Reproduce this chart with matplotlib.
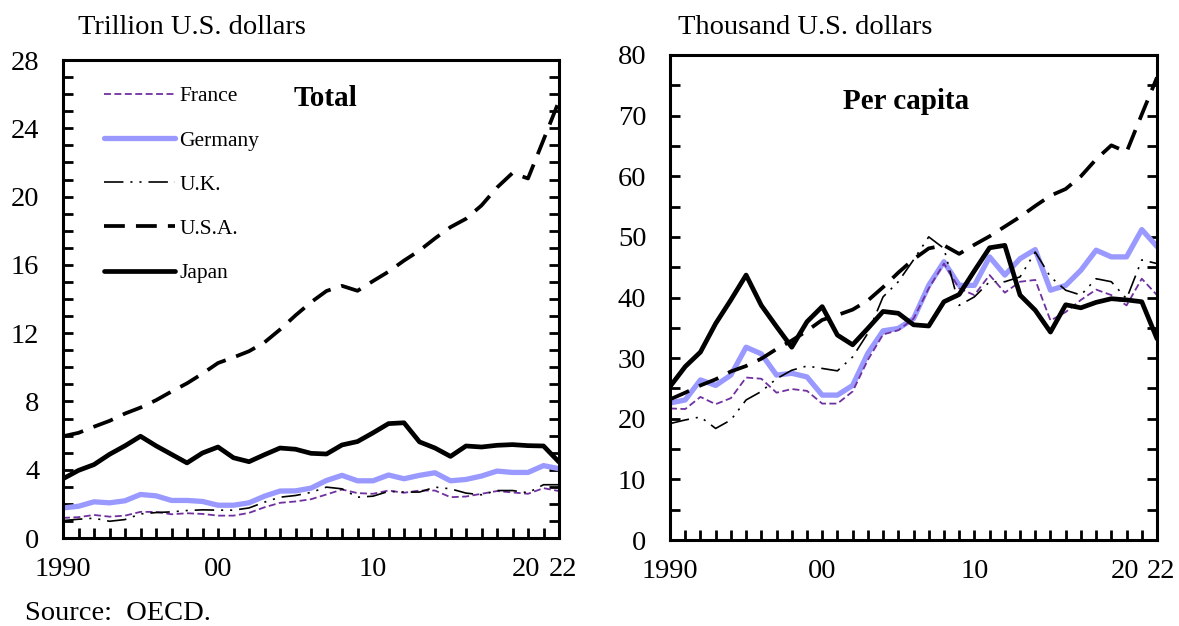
import matplotlib
matplotlib.use("Agg")
import matplotlib.pyplot as plt
from matplotlib.ticker import FixedLocator, MultipleLocator
import matplotlib.transforms as mtransforms
import numpy as np

plt.rcParams['font.family'] = ['Liberation Serif', 'DejaVu Serif']
plt.rcParams['lines.scale_dashes'] = False

years = list(range(1990, 2023))

# Total, trillion U.S. dollars
total_france = [1.18, 1.22, 1.35, 1.25, 1.31, 1.53, 1.53, 1.39, 1.45, 1.41, 1.31, 1.31, 1.47,
                1.80, 2.06, 2.14, 2.27, 2.55, 2.84, 2.63, 2.59, 2.78, 2.65, 2.78, 2.78, 2.39,
                2.43, 2.59, 2.75, 2.67, 2.59, 2.92, 2.75]
total_germany = [1.76, 1.86, 2.12, 2.06, 2.18, 2.55, 2.47, 2.20, 2.20, 2.14, 1.92, 1.92, 2.06,
                 2.45, 2.75, 2.76, 2.92, 3.37, 3.67, 3.35, 3.35, 3.69, 3.47, 3.67, 3.82, 3.35,
                 3.43, 3.63, 3.92, 3.84, 3.84, 4.24, 4.06]
total_uk = [1.02, 1.10, 1.16, 0.98, 1.08, 1.41, 1.49, 1.53, 1.61, 1.65, 1.63, 1.63, 1.76,
            2.10, 2.39, 2.49, 2.67, 2.98, 2.88, 2.39, 2.45, 2.73, 2.69, 2.69, 2.98, 2.88,
            2.63, 2.53, 2.78, 2.78, 2.65, 3.12, 3.12]
total_usa = [5.96, 6.16, 6.52, 6.86, 7.29, 7.64, 8.07, 8.58, 9.06, 9.63, 10.25, 10.58, 10.94,
             11.46, 12.21, 13.04, 13.81, 14.47, 14.77, 14.48, 15.05, 15.60, 16.25, 16.84,
             17.55, 18.21, 18.70, 19.48, 20.53, 21.38, 21.06, 23.32, 25.60]
total_japan = [3.47, 3.96, 4.30, 4.90, 5.40, 5.96, 5.40, 4.90, 4.40, 4.98, 5.33, 4.70, 4.47,
               4.88, 5.27, 5.20, 4.96, 4.92, 5.45, 5.65, 6.16, 6.70, 6.75, 5.63, 5.27, 4.78,
               5.39, 5.33, 5.43, 5.47, 5.41, 5.39, 4.45]

# Per capita, thousand U.S. dollars
pc_france = [21.7, 21.6, 23.6, 22.4, 23.4, 26.8, 26.6, 24.3, 24.9, 24.6, 22.5, 22.5, 24.5,
             29.7, 33.9, 34.6, 36.5, 41.5, 45.6, 41.5, 40.4, 43.7, 40.8, 42.6, 42.9, 36.2,
             37.6, 39.6, 41.3, 40.4, 38.7, 43.1, 40.4]
pc_germany = [22.6, 23.1, 26.4, 25.5, 27.2, 31.8, 30.7, 27.2, 27.5, 26.9, 23.9, 23.9, 25.5,
              30.8, 34.5, 34.9, 36.5, 42.0, 45.9, 42.0, 42.0, 46.7, 43.7, 46.4, 47.9, 41.2,
              42.0, 44.5, 47.8, 46.7, 46.7, 51.2, 48.4]
pc_uk = [19.2, 19.8, 20.3, 18.4, 19.8, 23.1, 24.5, 26.6, 28.0, 28.7, 28.3, 27.9, 30.2,
         34.1, 40.1, 42.6, 46.2, 50.0, 48.1, 38.7, 40.1, 42.6, 42.6, 43.4, 47.5, 43.4,
         41.2, 40.4, 43.1, 42.6, 39.8, 46.2, 45.6]
pc_usa = [23.2, 24.3, 25.5, 26.5, 27.8, 28.7, 29.9, 31.5, 32.9, 34.5, 36.3, 37.1, 38.0,
          39.5, 41.7, 44.1, 46.3, 48.1, 48.6, 47.2, 48.7, 50.1, 51.7, 53.3, 55.1, 56.8,
          57.9, 60.0, 62.8, 65.1, 64.0, 70.2, 76.3]
pc_japan = [25.3, 28.6, 31.0, 35.7, 39.6, 43.7, 38.7, 35.2, 31.8, 36.0, 38.5, 33.8, 32.2,
            34.9, 37.7, 37.4, 35.5, 35.3, 39.3, 40.5, 44.4, 48.2, 48.6, 40.4, 37.9, 34.3,
            38.8, 38.3, 39.2, 39.8, 39.6, 39.3, 33.2]

xtick_pos = [1990, 2000, 2010, 2020, 2022]
xtick_labels = ["1990", "00", "10", "20", "22"]

styles = {
    'France': dict(color='#7030A0', lw=1.3, dashes=(5, 2.5)),
    'Germany': dict(color='#9999FF', lw=3.8, solid_capstyle='round'),
    'U.K.': dict(color='black', lw=1.2, dashes=(14, 5, 1.5, 5, 1.5, 5)),
    'U.S.A.': dict(color='black', lw=2.7, dashes=(15, 8)),
    'Japan': dict(color='black', lw=3.4, solid_capstyle='round'),
}

fig = plt.figure(figsize=(11.79, 6.26), dpi=100)
W, H = 1179, 626
axL = fig.add_axes([63 / W, (H - 538) / H, (559 - 63) / W, (538 - 60) / H])
axR = fig.add_axes([670 / W, (H - 540) / H, (1157 - 670) / W, (540 - 55) / H])

label_shift = {"20": -2, "22": 4}

def draw(ax, data, ymax, major, minor):
    handles = {}
    for name in ['Germany', 'France', 'U.K.', 'U.S.A.', 'Japan']:
        (ln,) = ax.plot(years, data[name], label=name, **styles[name])
        handles[name] = ln
    ax.set_xlim(1990, 2022)
    ax.set_ylim(0, ymax)
    ax.xaxis.set_major_locator(FixedLocator(xtick_pos))
    ax.set_xticklabels(xtick_labels)
    ax.xaxis.set_minor_locator(MultipleLocator(1))
    ax.yaxis.set_major_locator(MultipleLocator(major))
    ax.yaxis.set_minor_locator(MultipleLocator(minor))
    ax.tick_params(axis='x', which='both', direction='in', length=7, width=2.0,
                   top=False, bottom=True)
    ax.tick_params(axis='x', which='major', labelsize=20.5, pad=14)
    ax.tick_params(axis='y', which='both', direction='in', length=7, width=2.0,
                   left=True, right=True)
    ax.tick_params(axis='y', which='major', labelsize=20.5, pad=17)
    for sp in ax.spines.values():
        sp.set_linewidth(2.2)
    for lab in ax.get_xticklabels():
        dx = label_shift.get(lab.get_text(), 0)
        if dx:
            lab.set_transform(lab.get_transform() +
                              mtransforms.ScaledTranslation(dx / 100, 0, fig.dpi_scale_trans))
    return handles

hL = draw(axL, {'France': total_france, 'Germany': total_germany, 'U.K.': total_uk,
                'U.S.A.': total_usa, 'Japan': total_japan}, 28, 4, 1)
draw(axR, {'France': pc_france, 'Germany': pc_germany, 'U.K.': pc_uk,
           'U.S.A.': pc_usa, 'Japan': pc_japan}, 80, 10, 5)

order = ['France', 'Germany', 'U.K.', 'U.S.A.', 'Japan']
axL.legend([hL[n] for n in order], order, loc='upper left',
           bbox_to_anchor=(0.065, 0.963), frameon=False, fontsize=15.5,
           handlelength=3.3, handletextpad=0.2, labelspacing=1.12, borderaxespad=0)

axL.text(0.53, 0.92, "Total", transform=axL.transAxes, fontsize=21, fontweight='bold',
         ha='center', va='center')
axR.text(0.485, 0.905, "Per capita", transform=axR.transAxes, fontsize=21,
         fontweight='bold', ha='center', va='center')

fig.text(78 / W, 1 - 28 / H, "Trillion U.S. dollars", fontsize=20.5, ha='left', va='center')
fig.text(678 / W, 1 - 28 / H, "Thousand U.S. dollars", fontsize=20.5, ha='left', va='center')
fig.text(25 / W, 1 - 614 / H, "Source:  OECD.", fontsize=20.5, ha='left', va='center')

fig.savefig("out.png", dpi=100)
